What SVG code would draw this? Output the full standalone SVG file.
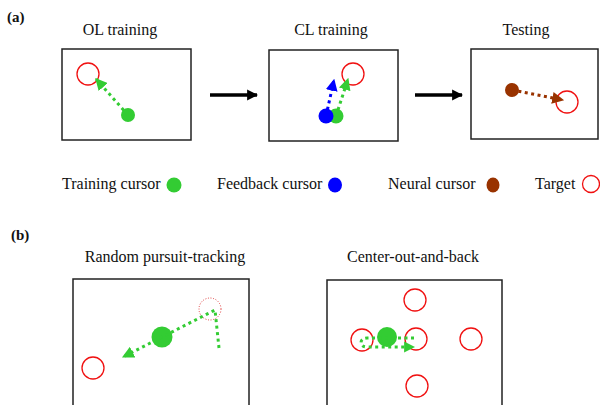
<svg xmlns="http://www.w3.org/2000/svg" width="600" height="405" viewBox="0 0 600 405">
  <style>
    text { font-family: "Liberation Serif", "Times New Roman", serif; fill: #111; }
    .lbl { font-size: 15px; font-weight: bold; }
    .ttl { font-size: 16px; text-anchor: middle; }
    .leg { font-size: 16px; }
    .panel { fill: #fff; stroke: #222; stroke-width: 1.5; }
    .target { fill: none; stroke: #f01010; stroke-width: 1.3; }
    .ghost { fill: none; stroke: #e04040; stroke-width: 1; stroke-dasharray: 1 1.6; }
    .dot-g { fill: none; stroke: #33cc33; stroke-width: 3; stroke-dasharray: 3 3.5; }
    .dot-b { fill: none; stroke: #0000ff; stroke-width: 3; stroke-dasharray: 3 3.5; }
    .dot-r { fill: none; stroke: #993300; stroke-width: 3; stroke-dasharray: 3 3.5; }
    .step { stroke: #000; stroke-width: 3.5; }
  </style>
  <defs>
    <marker id="ah-green" markerUnits="userSpaceOnUse" viewBox="0 0 10 10" refX="9" refY="5" markerWidth="12" markerHeight="12" orient="auto">
      <path d="M0,0 L10,5 L0,10 z" fill="#33cc33"/>
    </marker>
    <marker id="ah-green-lg" markerUnits="userSpaceOnUse" viewBox="0 0 10 10" refX="9" refY="5" markerWidth="11" markerHeight="14" orient="auto">
      <path d="M0,0 L10,5 L0,10 z" fill="#33cc33"/>
    </marker>
    <marker id="ah-blue" markerUnits="userSpaceOnUse" viewBox="0 0 10 10" refX="9" refY="5" markerWidth="12" markerHeight="12" orient="auto">
      <path d="M0,0 L10,5 L0,10 z" fill="#0000ff"/>
    </marker>
    <marker id="ah-brown" markerUnits="userSpaceOnUse" viewBox="0 0 10 10" refX="9" refY="5" markerWidth="12" markerHeight="12" orient="auto">
      <path d="M0,0 L10,5 L0,10 z" fill="#993300"/>
    </marker>
    <marker id="ah-black" markerUnits="userSpaceOnUse" viewBox="0 0 10 10" refX="9" refY="5" markerWidth="11" markerHeight="12" orient="auto">
      <path d="M0,0 L10,5 L0,10 z" fill="#000"/>
    </marker>
  </defs>

  <!-- panel labels -->
  <text class="lbl" x="7" y="22">(a)</text>
  <text class="lbl" x="11" y="240">(b)</text>

  <!-- (a) open-loop training -->
  <g id="ol-training">
    <text class="ttl" x="120" y="35">OL training</text>
    <rect class="panel" x="62" y="49" width="129" height="91"/>
    <circle class="target" cx="88" cy="74" r="11"/>
    <circle cx="128" cy="115" r="7" fill="#33cc33"/>
  </g>

  <!-- (a) closed-loop training -->
  <g id="cl-training">
    <text class="ttl" x="331" y="35">CL training</text>
    <rect class="panel" x="269" y="50" width="129" height="91"/>
    <circle class="target" cx="353" cy="74" r="11"/>
    <circle cx="336" cy="116" r="7.5" fill="#33cc33"/>
    <circle cx="326" cy="116" r="7.5" fill="#0000ff"/>
  </g>

  <!-- (a) testing -->
  <g id="testing">
    <text class="ttl" x="526" y="35">Testing</text>
    <rect class="panel" x="471" y="49" width="127" height="90"/>
    <circle class="target" cx="567" cy="102" r="11"/>
    <circle cx="512" cy="90" r="7" fill="#993300"/>
  </g>

  <!-- legend -->
  <g id="legend">
    <text class="leg" x="62" y="189">Training cursor</text>
    <ellipse cx="174" cy="185" rx="7.5" ry="7.5" fill="#33cc33"/>
    <text class="leg" x="217" y="189">Feedback cursor</text>
    <ellipse cx="335" cy="185" rx="7" ry="7.5" fill="#0000ff"/>
    <text class="leg" x="388" y="189">Neural cursor</text>
    <ellipse cx="493" cy="185" rx="6.5" ry="7.5" fill="#993300"/>
    <text class="leg" x="535" y="189">Target</text>
    <circle class="target" cx="591" cy="184" r="8.5"/>
  </g>

  <!-- (b) random pursuit-tracking -->
  <g id="pursuit">
    <text class="ttl" x="165" y="262">Random pursuit-tracking</text>
    <rect class="panel" x="73" y="279" width="176" height="140"/>
    <circle class="target" cx="93" cy="368" r="11"/>
    <circle class="ghost" cx="210" cy="309" r="11"/>
    <circle cx="162" cy="337" r="10.5" fill="#33cc33"/>
  </g>

  <!-- (b) center-out-and-back -->
  <g id="center-out">
    <text class="ttl" x="413" y="262">Center-out-and-back</text>
    <rect class="panel" x="327" y="280" width="175" height="140"/>
    <circle class="target" cx="415" cy="300" r="11"/>
    <circle class="target" cx="362" cy="340" r="11"/>
    <circle class="target" cx="416" cy="339" r="11"/>
    <circle class="target" cx="471" cy="339" r="11"/>
    <circle class="target" cx="417" cy="386" r="11"/>
    <circle cx="387" cy="337" r="10" fill="#33cc33"/>
  </g>

  <!-- connectors -->
  <g id="connectors">
    <line class="step" x1="210" y1="95" x2="257" y2="95" marker-end="url(#ah-black)"/>
    <line class="step" x1="415" y1="95" x2="462" y2="95" marker-end="url(#ah-black)"/>
    <line class="dot-g" x1="128" y1="115" x2="96" y2="79" marker-end="url(#ah-green)"/>
    <line class="dot-b" x1="326" y1="116" x2="334" y2="80" marker-end="url(#ah-blue)"/>
    <line class="dot-g" x1="336" y1="116" x2="348" y2="79" marker-end="url(#ah-green)"/>
    <line class="dot-r" x1="512" y1="90" x2="563" y2="100" marker-end="url(#ah-brown)"/>
    <polyline class="dot-g" points="219,348 215,310 123,357" marker-end="url(#ah-green)"/>
    <path class="dot-g" d="M414,338 H367 C359,338 359,347 367,347 H414" marker-end="url(#ah-green-lg)"/>
  </g>
</svg>
